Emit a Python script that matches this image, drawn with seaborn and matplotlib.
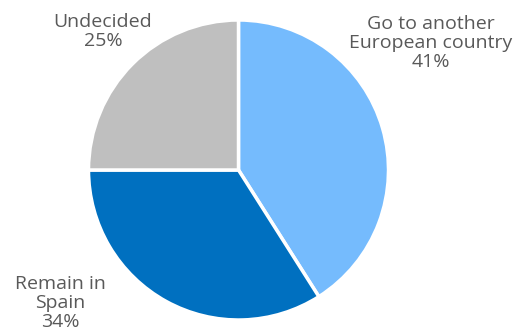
import matplotlib
matplotlib.use("Agg")
import matplotlib.pyplot as plt
import seaborn as sns

categories = ["Go to another\nEuropean country", "Remain in\nSpain", "Undecided"]
values = [41, 34, 25]
colors = ["#75BBFD", "#0070C0", "#BFBFBF"]

sns.set_theme(style="white")
plt.rcParams["font.family"] = ["Open Sans", "DejaVu Sans"]

W, H = 523, 333
fig = plt.figure(figsize=(W / 100, H / 100), dpi=100)
ax = fig.add_axes([0, 0, 1, 1])

cx, cy, r = 238.5, H - 170, 150
ax.pie(values, colors=colors, startangle=90, counterclock=False,
       center=(cx, cy), radius=r, frame=True,
       wedgeprops=dict(edgecolor="white", linewidth=2.5))
ax.set_xlim(0, W)
ax.set_ylim(0, H)
ax.set_aspect("equal")
ax.axis("off")

# label anchors (centre of each text block)
label_pos = [(431, H - 43), (60, H - 303), (103, H - 31.5)]
for cat, v, (x, y) in zip(categories, values, label_pos):
    ax.text(x, y, f"{cat}\n{v}%", ha="center", va="center",
            fontsize=14, color="#595959", linespacing=1.1)

fig.savefig("out.png", dpi=100)
